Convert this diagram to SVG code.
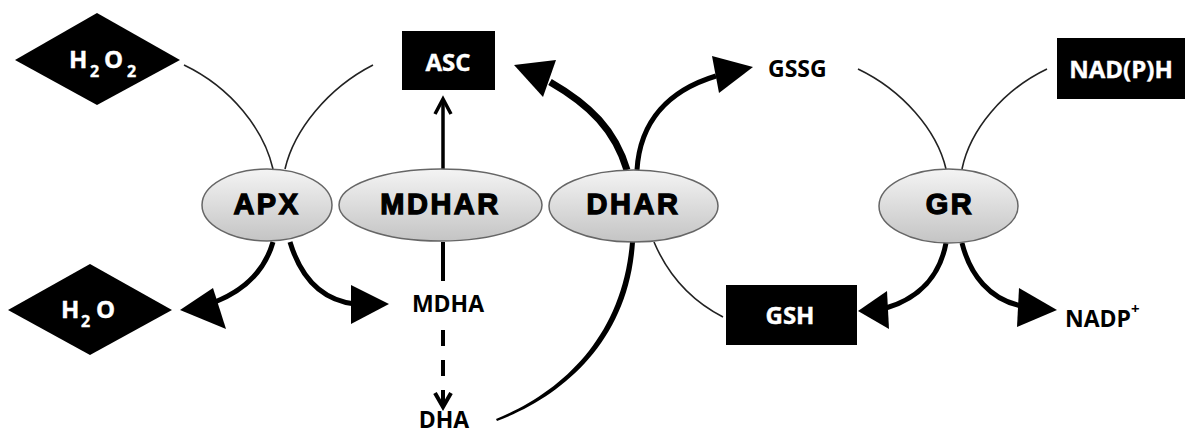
<svg xmlns="http://www.w3.org/2000/svg" width="1185" height="434" viewBox="0 0 1185 434">
<defs>
<linearGradient id="eg" x1="0" y1="0" x2="0" y2="1">
<stop offset="0" stop-color="#f4f4f4"/>
<stop offset="1" stop-color="#c4c4c4"/>
</linearGradient>
<style>
.enz{fill:url(#eg);stroke:#666;stroke-width:1.5}
.el{font-family:"Liberation Sans",Arial,sans-serif;font-weight:bold;font-size:29px;letter-spacing:2.5px;fill:#000;stroke:#000;stroke-width:1.3px;text-anchor:middle}
.box{fill:#000}
.wt{font-family:"Open Sans",sans-serif;font-weight:700;font-size:24px;fill:#fff;stroke:#fff;stroke-width:0.4px}
.bt{font-family:"Open Sans",sans-serif;font-weight:700;font-size:23px;fill:#000}
.thin{fill:none;stroke:#222;stroke-width:1.6}
.thick{fill:none;stroke:#000;stroke-width:5}
.head{fill:#000}
</style>
</defs>
<rect width="1185" height="434" fill="#fff"/>
<g id="connectors">
<path class="thin" d="M184,65 C232,88 264,130 273,169"/>
<path class="thin" d="M373,65 C328,88 294,130 285,169"/>
<path class="thin" d="M858,69 C902,90 937,130 946,169"/>
<path class="thin" d="M1047,69 C1003,90 970,130 962,169"/>
<path class="thin" d="M654,242 C668,275 690,300 723,317"/>
<path fill="none" stroke="#000" stroke-width="3.5" d="M443,169 L443,99"/>
<path fill="none" stroke="#000" stroke-width="3.5" stroke-linejoin="miter" d="M435,114 L443,99 L451,114"/>
<path fill="none" stroke="#000" stroke-width="7" d="M627,170 C615,130 590,105 550,82"/>
<polygon class="head" points="514,65 556,60 543,97"/>
<path class="thick" d="M637,170 C640,120 670,90 716,76"/>
<polygon class="head" points="753,67 712,56 719,93"/>
<path class="thick" d="M273,242 C265,270 245,290 215,302"/>
<polygon class="head" points="180,310 213,288 226,329"/>
<path class="thick" d="M290,242 C300,275 320,300 355,304"/>
<polygon class="head" points="389,304 351,285 351,324"/>
<path class="thick" d="M946,243 C940,275 920,298 886,308"/>
<polygon class="head" points="858,311 887,291 889,329"/>
<path class="thick" d="M962,243 C970,275 990,300 1022,306"/>
<polygon class="head" points="1057,310 1019,288 1017,327"/>
<path fill="none" stroke="#000" stroke-width="4" d="M443,242 L443,281"/>
<path fill="none" stroke="#000" stroke-width="4" stroke-dasharray="16 14" d="M443,330 L443,406"/>
<path fill="none" stroke="#000" stroke-width="4" d="M435,393 L443,407 L451,393"/>
<path fill="#000" d="M630,242 C622,340 558,394 496,419 L497,421 C561,397 629,342 635,242 Z"/>
</g>
<g id="H2O2">
<polygon class="box" points="15,60 97,13 180,60 97,105"/>
<text class="wt" y="68"><tspan x="69">H</tspan><tspan x="90" y="77" font-size="16">2</tspan><tspan x="104" y="68">O</tspan><tspan x="127" y="77" font-size="16">2</tspan></text>
</g>
<g id="H2O">
<polygon class="box" points="8,310 90,264 172,310 90,355"/>
<text class="wt" y="318"><tspan x="61">H</tspan><tspan x="81" y="327" font-size="16">2</tspan><tspan x="96" y="318">O</tspan></text>
</g>
<g id="ASC">
<rect class="box" x="402" y="31" width="93" height="59"/>
<text class="wt" x="448" y="71" text-anchor="middle">ASC</text>
</g>
<g id="NADPH">
<rect class="box" x="1057" y="38" width="128" height="61"/>
<text class="wt" x="1121" y="78" text-anchor="middle">NAD(P)H</text>
</g>
<g id="GSH">
<rect class="box" x="726" y="285" width="131" height="60"/>
<text class="wt" x="790" y="324" text-anchor="middle" font-size="23">GSH</text>
</g>
<g id="GSSG"><text class="bt" x="768" y="77">GSSG</text></g>
<g id="MDHA"><text class="bt" x="448" y="312" text-anchor="middle" font-size="24">MDHA</text></g>
<g id="DHA"><text class="bt" x="444" y="428" text-anchor="middle" font-size="23">DHA</text></g>
<g id="NADP"><text class="bt" x="1065" y="327">NADP<tspan font-size="15" dy="-13">+</tspan></text></g>
<g id="APX">
<ellipse class="enz" cx="267" cy="205" rx="65" ry="36"/>
<text class="el" x="267" y="214">APX</text>
</g>
<g id="MDHAR">
<ellipse class="enz" cx="440.5" cy="205" rx="101.5" ry="36"/>
<text class="el" x="440.5" y="214">MDHAR</text>
</g>
<g id="DHAR">
<ellipse class="enz" cx="633.5" cy="206" rx="84.5" ry="36"/>
<text class="el" x="633.5" y="214">DHAR</text>
</g>
<g id="GR">
<ellipse class="enz" cx="948.5" cy="206" rx="69.5" ry="37"/>
<text class="el" x="950" y="214">GR</text>
</g>
</svg>
